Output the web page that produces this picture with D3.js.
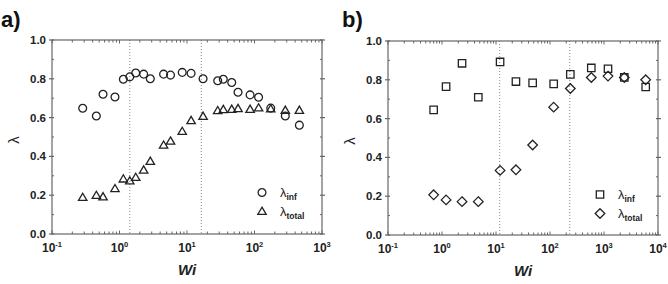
<!DOCTYPE html>
<html><head><meta charset="utf-8">
<script src="https://cdn.jsdelivr.net/npm/d3@7"></script>
<style>body{margin:0;background:#fff}svg{display:block}text{font-family:"Liberation Sans",Arial,sans-serif}</style>
</head><body>
<svg id="c" width="668" height="284"></svg>
<script>
// Panel a data
const aWi    = [0.285,0.454,0.57,0.857,1.14,1.42,1.74,2.28,2.86,4.5,5.7,8.5,11.5,17.3,28.5,34.5,46,57,86,115,174,286,462];
const aInf   = [0.648,0.608,0.72,0.706,0.798,0.81,0.83,0.824,0.80,0.824,0.819,0.833,0.828,0.80,0.79,0.798,0.781,0.731,0.717,0.705,0.649,0.608,0.561];
const aTotal = [0.188,0.198,0.191,0.233,0.283,0.273,0.291,0.329,0.374,0.457,0.478,0.528,0.584,0.606,0.635,0.641,0.642,0.646,0.642,0.649,0.644,0.637,0.637];
const aLines = [1.42,16.3];
// Panel b data
const bWi    = [0.70,1.19,2.35,4.7,11.9,23.4,47.7,117,238,582,1186,2377,5915];
const bInf   = [0.645,0.765,0.885,0.71,0.892,0.791,0.784,0.779,0.828,0.861,0.857,0.812,0.763];
const bTotal = [0.207,0.181,0.172,0.172,0.333,0.336,0.464,0.659,0.755,0.812,0.819,0.812,0.80];
const bLines = [11.7,232];
const yMajor = [0,0.2,0.4,0.6,0.8,1.0];
const yMinor = [0.1,0.3,0.5,0.7,0.9];

const svg = d3.select("#c");
const ink = "#222", frame = "#666";

function shapePath(type){
  if(type==="circle"){ const r=3.9; return `M${r},0A${r},${r} 0 1,1 ${-r},0A${r},${r} 0 1,1 ${r},0Z`; }
  if(type==="triangle"){ const h=7.2,w=8.4; return `M0,${-h*0.6}L${w/2},${h*0.4}L${-w/2},${h*0.4}Z`; }
  if(type==="square"){ const a=3.7; return `M${-a},${-a}H${a}V${a}H${-a}Z`; }
  if(type==="diamond"){ const a=4.8; return `M0,${-a}L${a},0L0,${a}L${-a},0Z`; }
}

function panel(o){
  const g = svg.append("g");
  const x = d3.scaleLog().domain(o.xdom).range([o.l,o.r]);
  const y = d3.scaleLinear().domain([0,1]).range([o.b,o.t]);
  o.lines.forEach(v=>{
    g.append("line").attr("x1",x(v)).attr("x2",x(v)).attr("y1",o.t).attr("y2",o.b)
     .attr("stroke","#8a8a8a").attr("stroke-width",1).attr("stroke-dasharray","1,2");
  });
  g.append("rect").attr("x",o.l).attr("y",o.t).attr("width",o.r-o.l).attr("height",o.b-o.t)
   .attr("fill","none").attr("stroke",frame).attr("stroke-width",1.2);
  const xt = x.ticks();
  xt.forEach(v=>{
    const lg = Math.log10(v), major = Math.abs(lg-Math.round(lg))<1e-9;
    const len = major?3.5:2.5;
    const xx = x(v);
    g.append("line").attr("x1",xx).attr("x2",xx).attr("y1",o.b).attr("y2",o.b-len).attr("stroke",frame).attr("stroke-width",1);
    g.append("line").attr("x1",xx).attr("x2",xx).attr("y1",o.t).attr("y2",o.t+len).attr("stroke",frame).attr("stroke-width",1);
    if(major){
      const t = g.append("text").attr("x",xx).attr("y",o.b+18).attr("text-anchor","middle")
        .attr("font-weight","bold").attr("font-size",12).attr("fill",ink);
      t.append("tspan").text("10");
      t.append("tspan").attr("font-size",7.5).attr("dy",-5).text(String(Math.round(lg)));
    }
  });
  yMajor.forEach(v=>{
    const yy=y(v);
    g.append("line").attr("x1",o.l-3).attr("x2",o.l+2).attr("y1",yy).attr("y2",yy).attr("stroke",frame).attr("stroke-width",1.2);
    g.append("line").attr("x1",o.r-2).attr("x2",o.r+3).attr("y1",yy).attr("y2",yy).attr("stroke",frame).attr("stroke-width",1.2);
    g.append("text").attr("x",o.l-6).attr("y",yy+4).attr("text-anchor","end").attr("font-weight","bold")
     .attr("font-size",11.5).attr("fill",ink).text(d3.format(".1f")(v));
  });
  yMinor.forEach(v=>{
    const yy=y(v);
    g.append("line").attr("x1",o.l).attr("x2",o.l+2).attr("y1",yy).attr("y2",yy).attr("stroke",frame).attr("stroke-width",1);
    g.append("line").attr("x1",o.r-2).attr("x2",o.r).attr("y1",yy).attr("y2",yy).attr("stroke",frame).attr("stroke-width",1);
  });
  const draw=(xs,ys,type)=>{
    g.selectAll(null).data(xs.map((d,i)=>[d,ys[i]])).enter().append("path")
     .attr("d",shapePath(type)).attr("transform",d=>`translate(${x(d[0])},${y(d[1])})`)
     .attr("fill","none").attr("stroke",ink).attr("stroke-width",1.3);
  };
  draw(o.xs,o.inf,o.s1);
  draw(o.xs,o.tot,o.s2);
  [[o.s1,"inf",o.leg[1]],[o.s2,"total",o.leg[1]+19]].forEach(([s,sub,ly])=>{
    g.append("path").attr("d",shapePath(s)).attr("transform",`translate(${o.leg[0]},${ly})`)
     .attr("fill","none").attr("stroke",ink).attr("stroke-width",1.3);
    const t=g.append("text").attr("x",o.leg[0]+18).attr("y",ly+4).attr("font-size",13).attr("fill",ink);
    t.append("tspan").text("λ");
    t.append("tspan").attr("font-size",8.5).attr("font-weight","bold").attr("dy",3).text(sub);
  });
  g.append("text").attr("x",(o.l+o.r)/2).attr("y",o.b+41).attr("text-anchor","middle")
   .attr("font-weight","bold").attr("font-style","italic").attr("font-size",15).attr("fill",ink).text("Wi");
  g.append("text").attr("transform",`translate(${o.l-33},${(o.t+o.b)/2+3}) rotate(-90)`).attr("text-anchor","middle")
   .attr("font-size",15).attr("fill",ink).text("λ");
  g.append("text").attr("x",o.pl[0]).attr("y",o.pl[1]).attr("font-weight","bold").attr("font-size",22).attr("fill","#111").text(o.label);
}

panel({xdom:[0.1,1000],l:52,r:322,t:40,b:234,xs:aWi,inf:aInf,tot:aTotal,lines:aLines,s1:"circle",s2:"triangle",leg:[262,192.5],pl:[1,27],label:"a)"});
panel({xdom:[0.1,10000],l:388,r:658,t:41,b:235,xs:bWi,inf:bInf,tot:bTotal,lines:bLines,s1:"square",s2:"diamond",leg:[600,194.5],pl:[342,27],label:"b)"});
</script>
</body></html>
